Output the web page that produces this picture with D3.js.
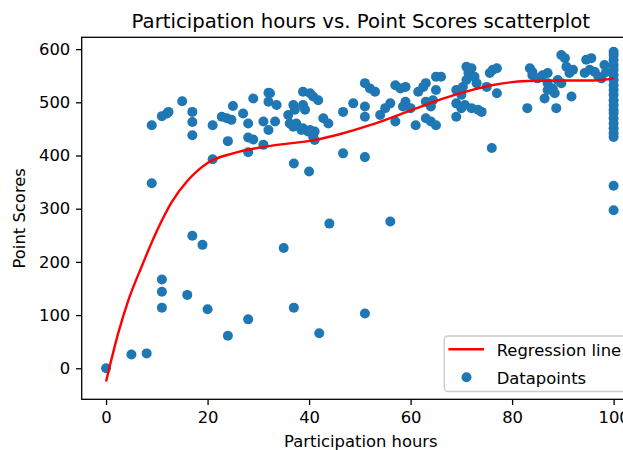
<!DOCTYPE html>
<html>
<head>
<meta charset="utf-8">
<script src="https://cdn.jsdelivr.net/npm/d3@7"></script>
<style>
  html, body { margin: 0; padding: 0; background: #fff; }
  svg { display: block; font-family: "DejaVu Sans", sans-serif; }
</style>
</head>
<body>
<svg id="chart" width="623" height="450"></svg>
<script>
// ---- data ----
const hours = [
  0, 5, 8, 11, 11, 11, 16, 17, 19, 20, 24, 28, 35, 44, 56, 37, 42, 51, 76, 100, 100,
  9, 9, 11, 12, 12.3, 15, 17, 17, 17, 21, 21, 22.8, 23.8, 24.7, 25, 24, 27, 29, 28, 28, 29, 28, 31, 32, 32, 31, 32,
  32.3, 33.3, 33.6, 36.9, 37.2, 35.9, 36.2, 36.9, 38.5, 39.8, 41.1, 41.1,
  38.8, 40.2, 40.8, 41.8, 38.8, 39.2, 37.5, 38.8, 40.2, 40.8, 37, 40, 42.8, 43.8, 46.7, 48.7,
  51, 52, 53, 51, 51, 46.7, 51, 54, 55, 56, 57, 58, 59, 57, 59, 58.5, 60, 61.5, 62.5, 63, 65, 66, 65,
  63, 64, 64.4, 61, 63, 64, 65, 69, 70, 70.3, 71, 69, 70, 70.7, 69, 71, 71.4,
  72, 72.6, 73, 72, 73.3, 74, 75, 75.6, 76.2, 77, 77,
  83, 83.5, 84, 84, 85, 86, 87, 87, 87, 88, 86.4, 88.4, 88.7, 89.7, 90.4, 90.7, 91.3, 92, 91.7, 89, 89.7,
  94.6, 95.6, 94.3, 95.3, 96.3, 97, 97.6, 98.2, 98.5,
  100, 100, 100, 100, 100, 100, 100, 100, 100, 100, 100, 100, 100, 100, 100, 100, 100, 100, 100
];
const scores = [
  0, 26, 28, 167, 144, 114, 138, 249, 232, 111, 61, 92, 226, 272, 276, 114, 66, 103, 414, 343, 297,
  348, 457, 474, 479, 482, 502, 482, 463, 438, 457, 393, 473, 470, 467, 493, 427, 479, 507, 460, 434, 430, 406, 420, 518, 501, 464, 448,
  517, 464, 495, 495, 486, 476, 460, 454, 448, 445, 445, 429,
  520, 517, 511, 504, 495, 486, 460, 451, 448, 435, 385, 370, 470, 460, 482, 498,
  536, 526, 520, 492, 473, 404, 397, 476, 489, 498, 532, 526, 529, 464, 501, 492, 489, 520, 529, 536, 548, 548, 523,
  501, 492, 504, 457, 470, 464, 457, 523, 514, 529, 542, 498, 489, 495, 473, 567, 555,
  564, 548, 536, 489, 486, 482, 529, 555, 561, 564, 517,
  489, 564, 557, 551, 545, 551, 555, 536, 523, 526, 507, 517, 489, 589, 583, 567, 555, 561, 511, 542, 536,
  580, 583, 555, 561, 557, 548, 545, 570, 557,
  595, 589, 580, 570, 561, 551, 542, 532, 523, 514, 504, 495, 486, 480, 470, 460, 451, 442, 435
];
// regression curve, points
const lineHours  = [0, 2.4, 4.4, 7, 10, 12.9, 16, 20, 25, 33, 41, 46, 52, 57, 62, 67, 72, 76, 83, 89, 96, 100];
const lineScores = [-25, 66, 128, 191, 258, 312, 352, 386, 404, 419, 429, 440, 457, 474, 492, 509, 523, 532, 540, 541, 541, 545];

const xTicks = [0, 20, 40, 60, 80, 100];
const yTicks = [0, 100, 200, 300, 400, 500, 600];

const titleText = "Participation hours vs. Point Scores scatterplot";
const xLabel = "Participation hours";
const yLabel = "Point Scores";
const legendLabels = ["Regression line", "Datapoints"];

// ---- layout ----
const L = 81.7, R = 640, T = 37.3, B = 399.3;
const blue = "#1f77b4";
const fs = 16.4;

const svg = d3.select("#chart");
const x = d3.scaleLinear().domain([-4.8, 105.2]).range([L, R]);
const y = d3.scaleLinear().domain([-58.3, 622.2]).range([B, T]);

svg.append("defs").append("clipPath").attr("id", "plotclip")
  .append("rect").attr("x", L).attr("y", T).attr("width", R - L).attr("height", B - T);

const plot = svg.append("g").attr("clip-path", "url(#plotclip)");

// datapoints
const pts = hours.map((h, i) => [h, scores[i]]);
plot.selectAll("circle.pt").data(pts).enter().append("circle")
  .attr("class", "pt")
  .attr("cx", d => x(d[0])).attr("cy", d => y(d[1])).attr("r", 5)
  .attr("fill", blue);

// regression line
const lineData = lineHours.map((h, i) => [h, lineScores[i]]);
plot.append("path").datum(lineData)
  .attr("d", d3.line().x(d => x(d[0])).y(d => y(d[1])).curve(d3.curveMonotoneX))
  .attr("fill", "none").attr("stroke", "#ff0000").attr("stroke-width", 2.4);

// axes
const xAxis = svg.append("g").attr("transform", `translate(0,${B})`)
  .call(d3.axisBottom(x).tickValues(xTicks).tickSize(5.7).tickPadding(6.5).tickFormat(d3.format("d")));
const yAxis = svg.append("g").attr("transform", `translate(${L},0)`)
  .call(d3.axisLeft(y).tickValues(yTicks).tickSize(5.7).tickPadding(5.7).tickFormat(d3.format("d")));
[xAxis, yAxis].forEach(a => {
  a.select(".domain").remove();
  a.selectAll(".tick line").attr("stroke", "#000").attr("stroke-width", 1.3);
  a.selectAll(".tick text").attr("font-size", fs).attr("fill", "#000")
    .attr("font-family", "DejaVu Sans, sans-serif");
});

// spines
svg.append("rect").attr("x", L).attr("y", T).attr("width", R - L).attr("height", B - T)
  .attr("fill", "none").attr("stroke", "#000").attr("stroke-width", 1.3);

// title and labels
svg.append("text").attr("x", (L + R) / 2).attr("y", 27.5).attr("text-anchor", "middle")
  .attr("font-size", 19.7).text(titleText);
svg.append("text").attr("x", (L + R) / 2).attr("y", 447).attr("text-anchor", "middle")
  .attr("font-size", fs).text(xLabel);
svg.append("text").attr("transform", `translate(25,${(T + B) / 2}) rotate(-90)`)
  .attr("text-anchor", "middle").attr("font-size", fs).text(yLabel);

// legend
const lg = svg.append("g");
lg.append("rect").attr("x", 444.3).attr("y", 336).attr("width", 200).attr("height", 55.5)
  .attr("rx", 3.5).attr("fill", "#fff").attr("fill-opacity", 0.8)
  .attr("stroke", "#cccccc").attr("stroke-width", 1.3);
lg.append("line").attr("x1", 448.5).attr("x2", 484).attr("y1", 349.3).attr("y2", 349.3)
  .attr("stroke", "#ff0000").attr("stroke-width", 2.4);
lg.append("circle").attr("cx", 466.5).attr("cy", 377.3).attr("r", 5).attr("fill", blue);
lg.selectAll("text.lt").data(legendLabels).enter().append("text")
  .attr("class", "lt").attr("x", 496.7).attr("y", (d, i) => 355.5 + i * 28)
  .attr("font-size", fs).text(d => d);
</script>
</body>
</html>
